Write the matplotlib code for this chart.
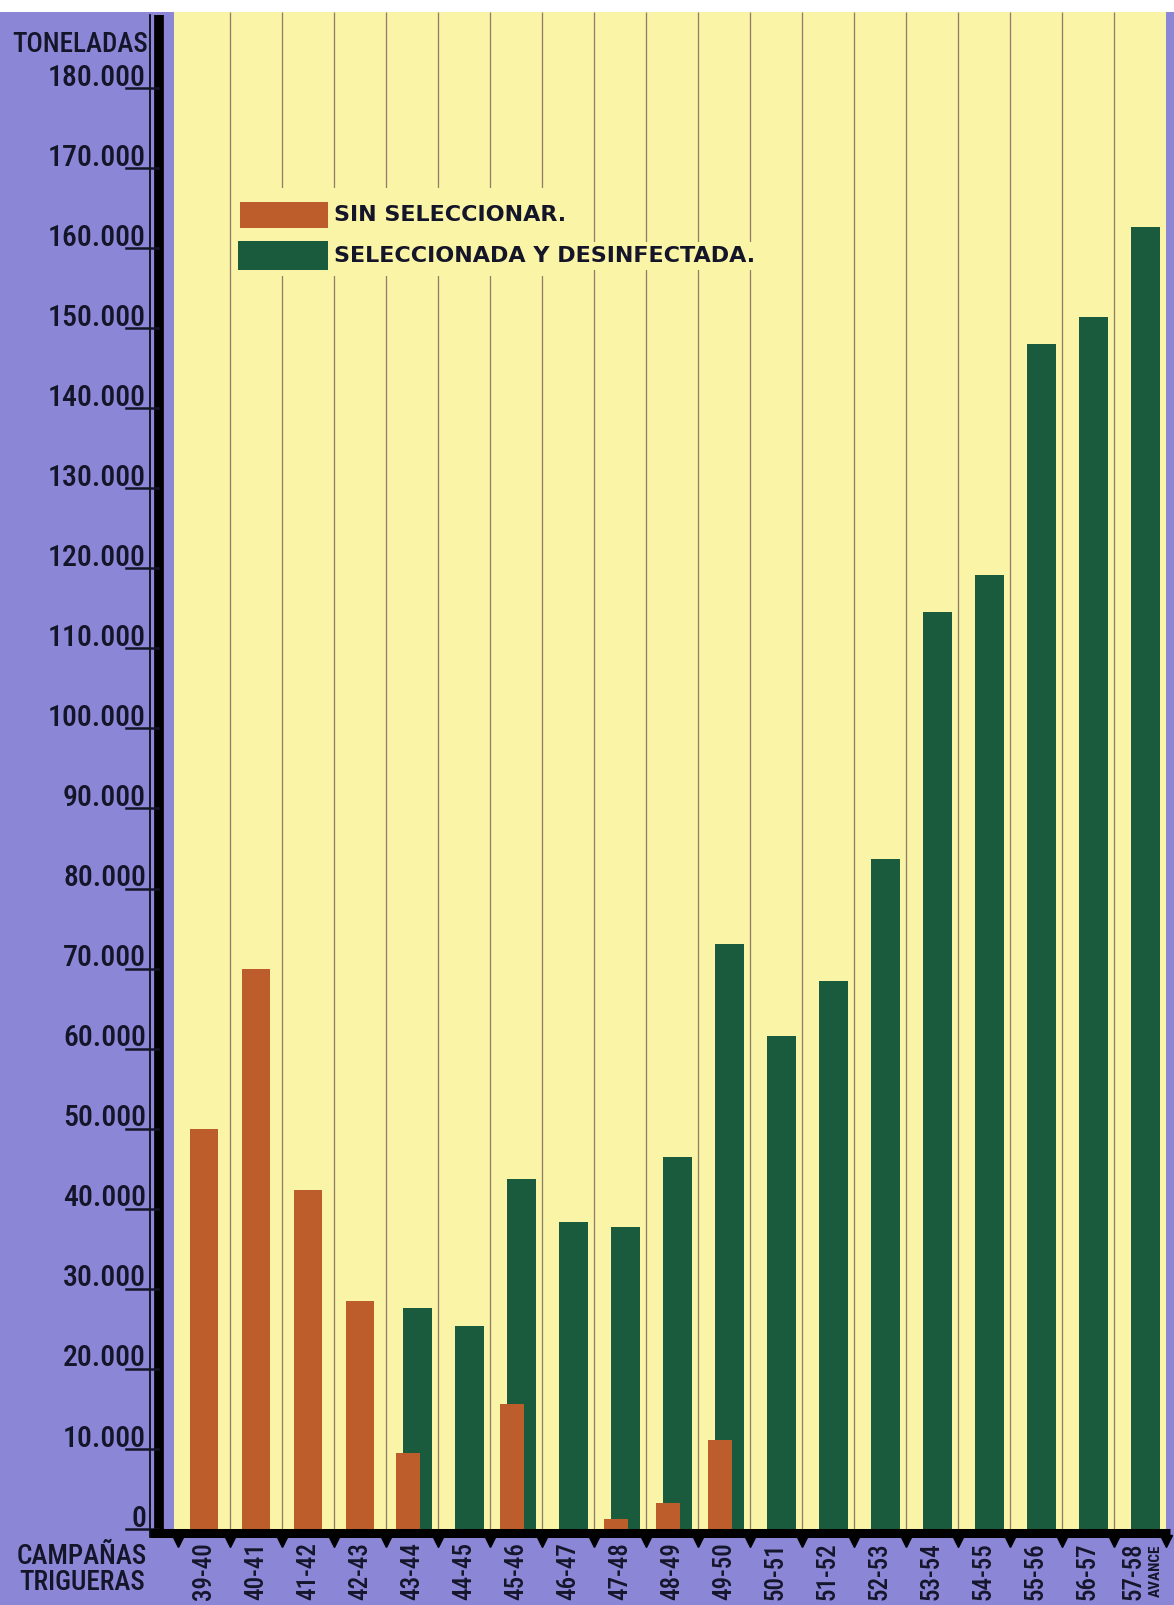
import numpy as np
import matplotlib
matplotlib.use("Agg")
import matplotlib.pyplot as plt
from matplotlib.transforms import blended_transform_factory
from matplotlib.patches import Rectangle

# data (toneladas)
campanas = ["39-40", "40-41", "41-42", "42-43", "43-44", "44-45", "45-46", "46-47",
            "47-48", "48-49", "49-50", "50-51", "51-52", "52-53", "53-54", "54-55",
            "55-56", "56-57", "57-58"]
sin_seleccionar = [50000, 70000, 42300, 28500, 9500, 0, 15600, 0,
                   1300, 3300, 11100, 0, 0, 0, 0, 0, 0, 0, 0]
seleccionada = [0, 0, 0, 0, 27600, 25400, 43700, 38400,
                37700, 46500, 73100, 61600, 68400, 83700, 114600, 119200,
                148000, 151400, 162600]
yticks = list(range(0, 190000, 10000))
ytick_labels = ["0" if v == 0 else f"{v // 1000}.000" for v in yticks]

PURPLE = "#8b86d6"
YELLOW = "#f9f4a6"
ORANGE = "#bd5d2c"
GREEN = "#1b5b3d"
GRID = "#93796a"
INK = "#15152a"
COND = "Roboto Condensed"
WT = 500

W, H = 1174, 1605
fig = plt.figure(figsize=(W / 100, H / 100), dpi=100, facecolor=PURPLE)
plt.rcParams['font.family'] = [COND, 'DejaVu Sans']

def fx(px):
    return px / W

def fy(py):
    return 1 - py / H

# white strip at the very top
fig.patches.append(Rectangle((0, fy(12)), 1, 1 - fy(12), transform=fig.transFigure,
                             facecolor="white", edgecolor="none", zorder=0))
# yellow starts a little left of the first slot
fig.patches.append(Rectangle((fx(174), fy(1529)), fx(6), fy(12) - fy(1529),
                             transform=fig.transFigure, facecolor=YELLOW,
                             edgecolor="none", zorder=0))

x_left, x_right, y_zero, y_top = 178, 1166, 1529, 12
ax = fig.add_axes([fx(x_left), fy(y_zero), fx(x_right - x_left), fy(y_top) - fy(y_zero)])
ax.set_facecolor(YELLOW)
ymax = (y_zero - y_top) / 0.008006
ax.set_ylim(0, ymax)
n = len(campanas)
ax.set_xlim(-0.5, n - 0.5)
for s in ax.spines.values():
    s.set_visible(False)
ax.set_xticks([])
ax.set_yticks([])

x = np.arange(n)
bounds = np.arange(n + 1) - 0.5
ax.vlines(bounds[1:-1], 0, ymax, color=GRID, lw=0.9, zorder=1)

sin = np.array(sin_seleccionar)
sel = np.array(seleccionada)
both = (sin > 0) & (sel > 0)
ax.bar(x + 0.105, sel, width=0.54, color=GREEN, zorder=2)
ax.bar(x[both] - 0.07, sin[both], width=0.46, color=ORANGE, zorder=3)
ax.bar(x[~both], sin[~both], width=0.54, color=ORANGE, zorder=3)

# legend drawn like the original
tr_leg = fig.transFigure
fig.patches.append(Rectangle((fx(232), fy(276)), fx(330), fy(188) - fy(276), transform=tr_leg,
                             facecolor=YELLOW, edgecolor="none", zorder=3))
fig.patches.append(Rectangle((fx(240), fy(228)), fx(88), fy(202) - fy(228), transform=tr_leg,
                             facecolor=ORANGE, edgecolor="none", zorder=4))
fig.patches.append(Rectangle((fx(238), fy(270)), fx(90), fy(241) - fy(270), transform=tr_leg,
                             facecolor=GREEN, edgecolor="none", zorder=4))
fig.text(fx(334), fy(215), "SIN SELECCIONAR.", fontsize=16, family="DejaVu Sans",
         fontweight="bold", ha="left", va="center", color=INK, zorder=5)
fig.text(fx(334), fy(256), "SELECCIONADA Y DESINFECTADA.", fontsize=16,
         family="DejaVu Sans", fontweight="bold", ha="left", va="center", color=INK,
         zorder=5, bbox=dict(facecolor=YELLOW, edgecolor="none", pad=3))

# y axis: black bar, thin line, tick lines and labels
fig.add_artist(plt.Line2D([fx(159), fx(159)], [fy(15), fy(1537)], color="black", lw=7,
                          transform=fig.transFigure, solid_capstyle="butt"))
fig.add_artist(plt.Line2D([fx(150), fx(150)], [fy(15), fy(1537)], color="black", lw=1.2,
                          transform=fig.transFigure))
tr_y = blended_transform_factory(fig.transFigure, ax.transData)
for v, lab in zip(yticks, ytick_labels):
    fig.add_artist(plt.Line2D([fx(126), fx(158)], [v, v], color=INK, lw=1.8,
                              transform=tr_y))
    fig.text(fx(146), v + 300, lab, transform=tr_y, fontsize=21.5, fontweight=WT,
             ha="right", va="baseline", color=INK)
fig.text(fx(148), fy(44), "TONELADAS", fontsize=19.5, fontweight=WT, ha="right",
         va="center", color=INK)

# x axis: black bar with triangular ticks
fig.add_artist(plt.Line2D([fx(150), fx(1170)], [fy(1533), fy(1533)], color="black", lw=6.5,
                          transform=fig.transFigure, solid_capstyle="butt"))
tr_x = blended_transform_factory(ax.transData, fig.transFigure)
ax.plot(bounds, [fy(1541)] * len(bounds), linestyle="none", marker="v", markersize=9,
        color="black", transform=tr_x, clip_on=False)
for i, lab in enumerate(campanas):
    xi = i - 0.12 if i == n - 1 else i
    ax.text(xi, fy(1571), lab, transform=tr_x, rotation=90, fontsize=18,
            fontweight=WT, ha="center", va="center", color=INK, clip_on=False)
ax.text(n - 1 + 0.3, fy(1571), "AVANCE", transform=tr_x, rotation=90, fontsize=11,
        fontweight="bold", ha="center", va="center", color=INK, clip_on=False)

fig.text(fx(82), fy(1557), "CAMPAÑAS", fontsize=19.5, fontweight=WT, ha="center",
         va="center", color=INK)
fig.text(fx(82), fy(1583), "TRIGUERAS", fontsize=19.5, fontweight=WT, ha="center",
         va="center", color=INK)

fig.savefig("out.png", dpi=100, facecolor=PURPLE)
